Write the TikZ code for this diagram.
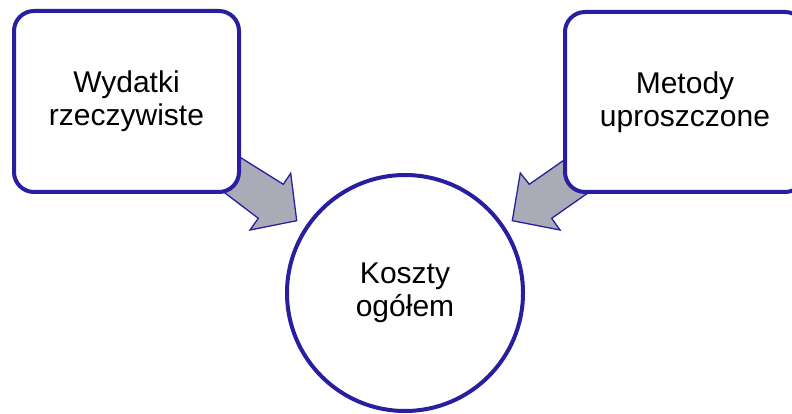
\documentclass[tikz,border=0pt]{standalone}
\usepackage{fontspec}
\setmainfont{Liberation Sans}
\definecolor{bord}{RGB}{40,30,160}
\definecolor{arrowgray}{RGB}{170,171,182}
\begin{document}
\begin{tikzpicture}[x=1pt,y=-1pt,
  box/.style={draw=bord, line width=4pt, rounded corners=20pt, fill=white,
    align=center, inner sep=0pt, font=\fontsize{30}{33}\selectfont},
  circ/.style={circle, draw=bord, line width=4pt, fill=white, align=center,
    inner sep=0pt, minimum size=236pt, font=\fontsize{30}{33}\selectfont},
  blockarrow/.style={draw=bord, line width=1.3pt, fill=arrowgray, line join=miter}]
\useasboundingbox (0,0) rectangle (792,414);
\clip (0,0) rectangle (792,414);
% block arrows (drawn first, boxes cover their tails)
\draw[blockarrow] (207.8,137) -- (241.7,158.3) -- (283.3,184.3) -- (290.7,173.3)
  -- (296.7,220.7) -- (250,230) -- (258.3,218.3) -- (226.7,194.3) -- (202.8,176) -- cycle;
\draw[blockarrow] (594.5,138.8) -- (561.7,161.7) -- (529.3,184.3) -- (520.3,173)
  -- (512.3,220.7) -- (560,230) -- (551.7,218.3) -- (588.3,192.7) -- (612.9,175.5) -- cycle;
% nodes
\node[box, minimum width=225pt, minimum height=181pt] (wyd) at (126.5,101.5) {Wydatki\\rzeczywiste};
\node[box, minimum width=240pt, minimum height=180pt] (met) at (685,102) {Metody\\uproszczone};
\node[circ] (kos) at (405,293) {Koszty\\ogółem};
\end{tikzpicture}
\end{document}
